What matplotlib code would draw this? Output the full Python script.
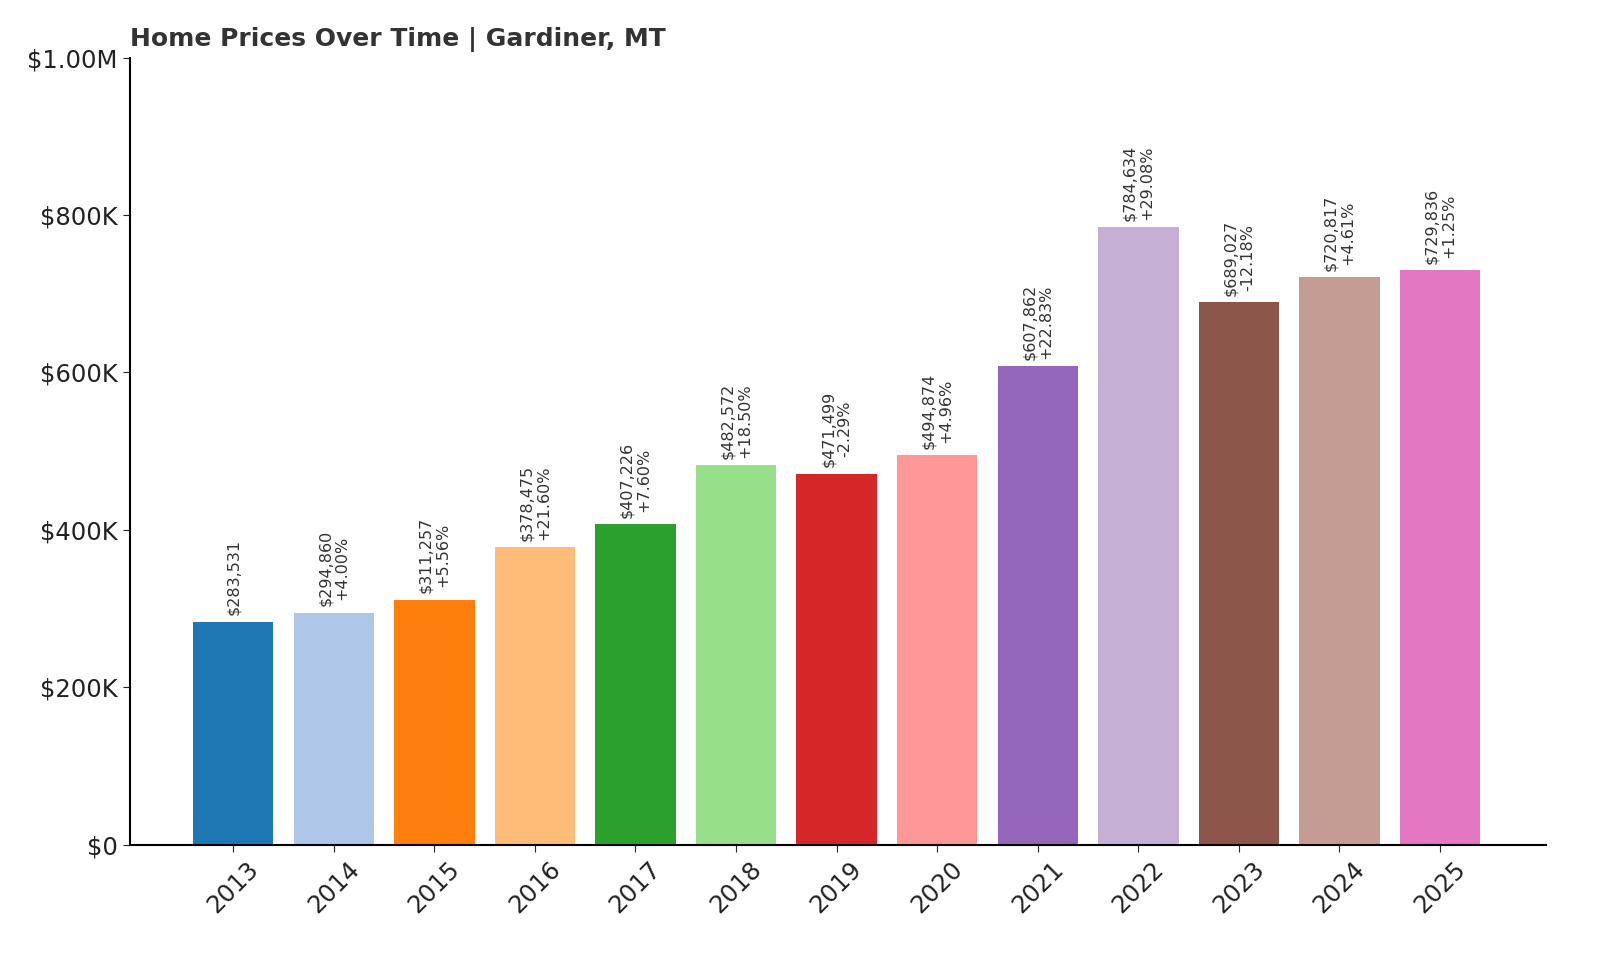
import matplotlib.pyplot as plt
from matplotlib.ticker import FuncFormatter

years = ["2013", "2014", "2015", "2016", "2017", "2018", "2019", "2020",
         "2021", "2022", "2023", "2024", "2025"]
prices = [283531, 294860, 311257, 378475, 407226, 482572, 471499, 494874,
          607862, 784634, 689027, 720817, 729836]
changes = [None, "+4.00%", "+5.56%", "+21.60%", "+7.60%", "+18.50%", "-2.29%",
           "+4.96%", "+22.83%", "+29.08%", "-12.18%", "+4.61%", "+1.25%"]

colors = plt.get_cmap("tab20").colors[:13]

fig = plt.figure(figsize=(16, 9.6), dpi=100)
ax = fig.add_axes([0.081, 0.12, 0.885, 0.82])

x = range(len(years))
ax.bar(x, prices, color=colors, width=0.8)

for i, p in enumerate(prices):
    label = f"${p:,}"
    if changes[i]:
        label += "\n" + changes[i]
    ax.text(i, p + 8000, label, rotation=90, ha="center", va="bottom",
            fontsize=11.5, color="#333333", linespacing=1.15)


def fmt(v, pos):
    if v == 0:
        return "$0"
    if v >= 1e6:
        return f"${v/1e6:.2f}M"
    return f"${v/1e3:.0f}K"


ax.set_ylim(0, 1000000)
ax.set_xlim(-1.03, 13.05)
ax.set_yticks([0, 200000, 400000, 600000, 800000, 1000000])
ax.yaxis.set_major_formatter(FuncFormatter(fmt))
ax.set_xticks(list(x))
ax.set_xticklabels(years, rotation=45)
ax.tick_params(axis="both", labelsize=17.5, colors="#222222", length=5)
ax.spines["top"].set_visible(False)
ax.spines["right"].set_visible(False)
ax.spines["left"].set_linewidth(1.5)
ax.spines["bottom"].set_linewidth(1.5)

ax.set_title("Home Prices Over Time | Gardiner, MT", loc="left",
             fontsize=18, fontweight="bold", color="#333333", pad=8)

fig.savefig("out.png")
